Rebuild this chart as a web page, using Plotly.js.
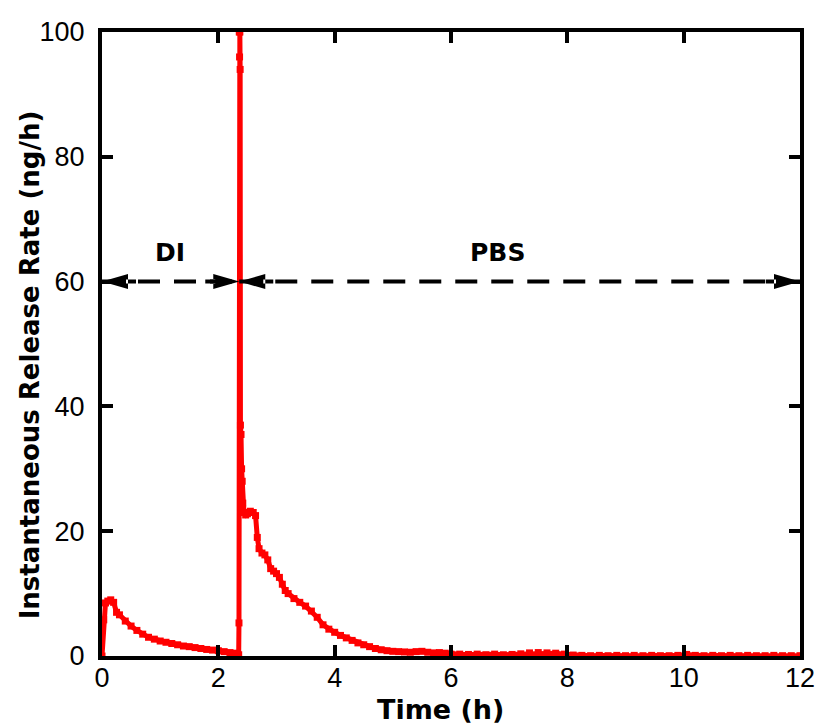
<!DOCTYPE html>
<html>
<head>
<meta charset="utf-8">
<script src="https://cdn.plot.ly/plotly-3.0.1.min.js"></script>
<style>html,body{margin:0;padding:0;background:#fff;}#chart{width:816px;height:724px;}</style>
</head>
<body>
<div id="chart"></div>
<script>
// Time (h)
const timeH = [
  0, 0.03, 0.06, 0.1, 0.15, 0.2, 0.25, 0.3, 0.4, 0.5, 0.6, 0.7, 0.8, 0.9, 1.0,
  1.1, 1.2, 1.3, 1.4, 1.5, 1.6, 1.7, 1.8, 1.9, 2.0, 2.1, 2.2, 2.3, 2.33, 2.35,
  2.355, 2.36, 2.365, 2.37, 2.375, 2.38, 2.39, 2.4, 2.41, 2.42, 2.44, 2.47, 2.5, 2.55, 2.6,
  2.64, 2.67, 2.7, 2.75, 2.8, 2.85, 2.9, 2.95, 3.0, 3.05, 3.1, 3.15, 3.2, 3.3, 3.4,
  3.5, 3.6, 3.7, 3.8, 3.9, 4.0, 4.1, 4.2, 4.3, 4.4, 4.5, 4.6, 4.7, 4.8, 4.9,
  5.0, 5.1, 5.2, 5.3, 5.4, 5.5, 5.6, 5.7, 5.8, 5.9, 6.0,
  6.15, 6.3, 6.45, 6.6, 6.75, 6.9, 7.05, 7.2, 7.35, 7.5, 7.65, 7.8, 7.95, 8.1, 8.25,
  8.4, 8.55, 8.7, 8.85, 9.0, 9.15, 9.3, 9.45, 9.6, 9.75, 9.9, 10.05, 10.2, 10.35, 10.5,
  10.65, 10.8, 10.95, 11.1, 11.25, 11.4, 11.55, 11.7, 11.85, 12.0
];
// Instantaneous release rate (ng/h)
const rateNgH = [
  0, 5.8, 8.5, 8.8, 9.0, 8.6, 7.0, 6.6, 5.6, 4.8, 4.1, 3.5, 3.0, 2.7, 2.4,
  2.2, 2.0, 1.8, 1.6, 1.5, 1.35, 1.2, 1.05, 0.95, 0.85, 0.7, 0.55, 0.45, 0.3, 0.2,
  5.3, 100, 96, 100, 94, 37, 35.5, 30, 28, 24.5, 23, 22.6, 22.8, 23.2, 23,
  22.5, 19, 17.2, 16.5, 16.2, 15.4, 14.0, 13.6, 13.2, 12.6, 11.5, 10.5, 10.0, 9.2, 8.6,
  8.0, 7.2, 6.2, 5.0, 4.3, 3.8, 3.3, 2.9, 2.5, 2.1, 1.8, 1.5, 1.2, 1.0, 0.85,
  0.75, 0.7, 0.65, 0.6, 0.7, 0.75, 0.6, 0.5, 0.55, 0.45, 0.3,
  0.3, 0.25, 0.3, 0.2, 0.3, 0.2, 0.25, 0.35, 0.5, 0.55, 0.5, 0.45, 0.3, 0.15, 0.1,
  0.05, 0.1, 0.05, 0.1, 0.05, 0.1, 0.05, 0.1, 0.05, 0.05, 0.1, 0.25, 0.1, 0.05, 0.1,
  0.05, 0.1, 0.05, 0.1, 0.05, 0.05, 0.1, 0.05, 0.05, 0.05
];
// Phase boundaries and labels
const phaseStart = [0, 2.36];
const phaseEnd = [2.36, 12];
const phaseNames = ['DI', 'PBS'];
const phaseLabelX = [1.17, 6.8];
const arrowLevel = 60;
const labelLevel = 64.6;
const xTicks = [0, 2, 4, 6, 8, 10, 12];
const yTicks = [0, 20, 40, 60, 80, 100];
const xTitle = 'Time (h)';
const yTitle = 'Instantaneous Release Rate (ng/h)';

const red = 'rgb(255,0,0)';
const trace = {
  x: timeH, y: rateNgH, type: 'scatter', mode: 'lines+markers',
  line: {color: red, width: 5},
  marker: {color: red, size: 7, symbol: 'square'},
  cliponaxis: false, hoverinfo: 'skip', showlegend: false
};

const shapes = [];
const annotations = [];
const headLen = 26, headHalf = 7.5;
for (let i = 0; i < phaseNames.length; i++) {
  shapes.push({type: 'line', xref: 'x', yref: 'y', x0: phaseStart[i], x1: phaseEnd[i],
    y0: arrowLevel, y1: arrowLevel, line: {color: 'black', width: 4, dash: '22px,14px'}, layer: 'above'});
  shapes.push({type: 'path', xref: 'x', yref: 'y', xsizemode: 'pixel', ysizemode: 'pixel',
    xanchor: phaseStart[i], yanchor: arrowLevel,
    path: `M0,0 L${headLen},${headHalf} L${headLen},${-headHalf} Z M${headLen-2},-2 L${headLen+8},-2 L${headLen+8},2 L${headLen-2},2 Z`,
    fillcolor: 'black', line: {width: 0}, layer: 'above'});
  shapes.push({type: 'path', xref: 'x', yref: 'y', xsizemode: 'pixel', ysizemode: 'pixel',
    xanchor: phaseEnd[i], yanchor: arrowLevel,
    path: `M0,0 L${-headLen},${headHalf} L${-headLen},${-headHalf} Z M${-headLen+2},-2 L${-headLen-8},-2 L${-headLen-8},2 L${-headLen+2},2 Z`,
    fillcolor: 'black', line: {width: 0}, layer: 'above'});
  annotations.push({x: phaseLabelX[i], y: labelLevel, xref: 'x', yref: 'y', text: phaseNames[i],
    showarrow: false, font: {family: 'DejaVu Sans', size: 25, color: 'black', weight: 'bold'}});
}

const titleFont = {family: 'DejaVu Sans', size: 26, color: 'black', weight: 'bold'};
// axis titles as annotations for exact placement
annotations.push({xref: 'paper', yref: 'paper', x: -0.103, y: 0.466, xanchor: 'center', yanchor: 'middle',
  text: yTitle, textangle: -90, showarrow: false, font: titleFont});
annotations.push({xref: 'paper', yref: 'paper', x: 0.485, y: -0.085, xanchor: 'center', yanchor: 'middle',
  text: xTitle, showarrow: false, font: {family: 'DejaVu Sans', size: 27, color: 'black', weight: 'bold'}});

const tickFont = {family: 'Liberation Sans, Arial, sans-serif', size: 27, color: 'black'};
const layout = {
  width: 816, height: 724,
  margin: {l: 102, r: 16, t: 32, b: 68},
  paper_bgcolor: 'white', plot_bgcolor: 'white',
  xaxis: {
    range: [0, 12], tickvals: xTicks, ticks: 'inside', ticklen: 11, tickwidth: 4, tickcolor: 'black',
    showline: true, linewidth: 4, linecolor: 'black', mirror: 'ticks',
    showgrid: false, zeroline: false, tickfont: tickFont, ticklabeloverflow: 'allow', ticklabelstandoff: -5
  },
  yaxis: {
    range: [0, 100], tickvals: yTicks, ticks: 'inside', ticklen: 11, tickwidth: 4, tickcolor: 'black',
    showline: true, linewidth: 4, linecolor: 'black', mirror: 'ticks',
    showgrid: false, zeroline: false, tickfont: tickFont, ticklabelstandoff: 8
  },
  shapes: shapes,
  annotations: annotations
};
Plotly.newPlot('chart', [trace], layout, {displayModeBar: false, staticPlot: true});
</script>
</body>
</html>
